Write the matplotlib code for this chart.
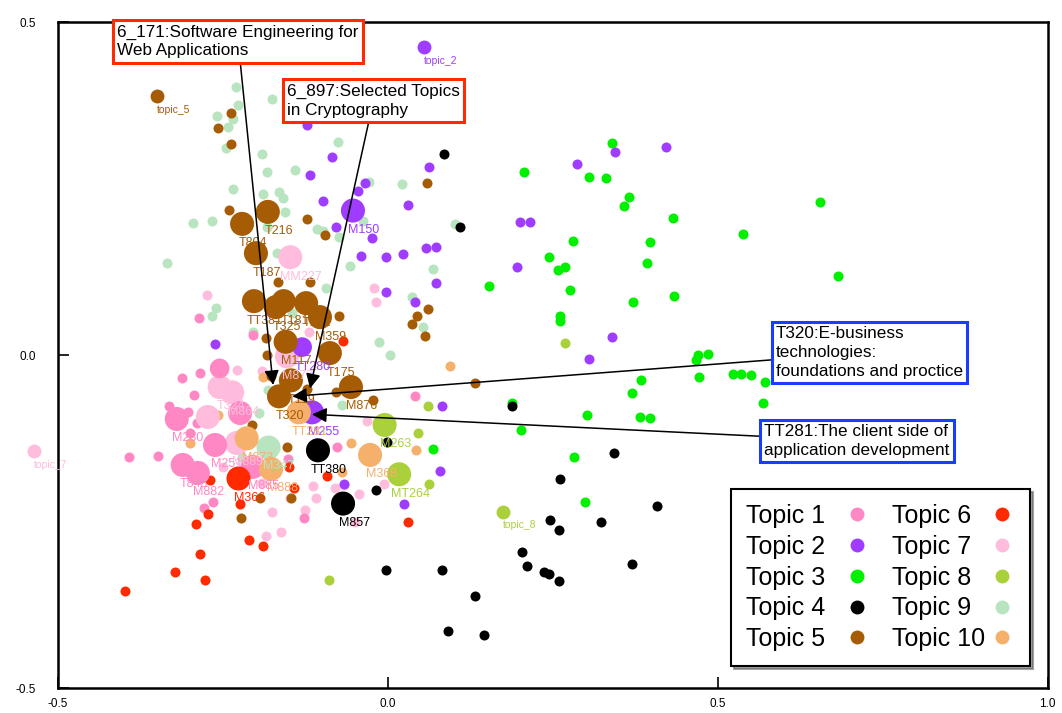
import matplotlib
matplotlib.use('Agg')
from matplotlib import pyplot as plt
from matplotlib.lines import Line2D

plt.rcParams['font.family'] = ['Liberation Sans', 'DejaVu Sans']

topic_names = ['Topic 1', 'Topic 2', 'Topic 3', 'Topic 4', 'Topic 5',
               'Topic 6', 'Topic 7', 'Topic 8', 'Topic 9', 'Topic 10']
colors = ['#ff88c4', '#a03cff', '#00f000', '#000000', '#a65c04',
          '#ff2a00', '#ffbcdc', '#aad13c', '#b8e4bf', '#f5b06c']

# small (single document) points per topic
t1_x = [-0.285, -0.312, -0.294, -0.332, -0.303, -0.289, -0.274, -0.392, -0.348, -0.152,
        -0.127, -0.279, -0.265, -0.077, -0.286, -0.205, 0.041, -0.300]
t1_y = [-0.027, -0.035, -0.060, -0.077, -0.086, -0.102, -0.102, -0.153, -0.152, -0.156,
        -0.244, -0.230, -0.221, -0.138, 0.056, 0.030, -0.062, -0.117]

t2_x = [0.421, 0.344, 0.286, 0.062, -0.035, -0.045, 0.030, -0.024, -0.041, -0.003,
        0.023, 0.058, 0.073, 0.200, 0.215, 0.195, 0.073, -0.003, 0.041, 0.339,
        0.305, -0.123, -0.085, -0.118, -0.098, -0.079, -0.262, 0.082, 0.079, 0.024,
        -0.067]
t2_y = [0.313, 0.305, 0.287, 0.283, 0.259, 0.247, 0.226, 0.176, 0.149, 0.147,
        0.152, 0.161, 0.162, 0.200, 0.200, 0.132, 0.108, 0.095, 0.080, 0.027,
        -0.006, 0.346, 0.298, 0.271, 0.232, 0.192, 0.017, -0.077, -0.174, -0.224,
        -0.194]

t3_x = [0.339, 0.206, 0.305, 0.330, 0.365, 0.358, 0.432, 0.280, 0.397, 0.244,
        0.258, 0.268, 0.392, 0.153, 0.276, 0.371, 0.433, 0.261, 0.261, 0.655,
        0.538, 0.682, 0.470, 0.467, 0.485, 0.471, 0.523, 0.535, 0.550, 0.571,
        0.568, 0.383, 0.370, 0.382, 0.397, 0.302, 0.188, 0.202, 0.282, 0.298,
        0.068]
t3_y = [0.319, 0.275, 0.268, 0.266, 0.238, 0.224, 0.206, 0.171, 0.170, 0.147,
        0.128, 0.132, 0.138, 0.104, 0.098, 0.080, 0.089, 0.059, 0.051, 0.230,
        0.182, 0.119, 0.000, -0.008, 0.002, -0.033, -0.029, -0.029, -0.030, -0.041,
        -0.072, -0.038, -0.057, -0.093, -0.095, -0.090, -0.072, -0.113, -0.153, -0.220,
        -0.141]

t4_x = [0.085, 0.109, 0.188, 0.342, 0.261, 0.408, 0.245, 0.259, 0.323, 0.203,
        0.211, 0.236, 0.244, 0.259, 0.370, -0.003, 0.082, 0.132, 0.091, 0.145,
        -0.018, -0.002]
t4_y = [0.302, 0.192, -0.077, -0.147, -0.186, -0.226, -0.247, -0.262, -0.251, -0.295,
        -0.316, -0.325, -0.329, -0.340, -0.313, -0.323, -0.322, -0.362, -0.415, -0.420,
        -0.203, -0.131]

t5_x = [-0.238, -0.258, -0.238, -0.241, -0.123, 0.059, 0.061, 0.044, 0.036, 0.056,
        -0.167, -0.118, -0.095, -0.074, -0.185, -0.183, -0.177, -0.123, -0.079, -0.023,
        -0.206, -0.185, -0.153, -0.194, -0.147, -0.223, 0.132]
t5_y = [0.364, 0.341, 0.317, 0.218, 0.205, 0.259, 0.069, 0.059, 0.047, 0.029,
        0.110, 0.110, 0.180, 0.059, 0.026, 0.000, -0.032, -0.051, -0.056, -0.068,
        -0.105, -0.138, -0.138, -0.214, -0.215, -0.244, -0.042]

t6_x = [-0.291, -0.285, -0.323, -0.398, -0.270, -0.150, -0.142, -0.224, -0.273, -0.211,
        -0.189, -0.092, 0.030, -0.068, -0.277]
t6_y = [-0.253, -0.298, -0.325, -0.355, -0.188, -0.168, -0.200, -0.223, -0.238, -0.277,
        -0.287, -0.182, -0.251, 0.021, -0.338]

t7_x = [-0.274, -0.120, -0.021, -0.018, -0.229, -0.191, -0.133, -0.114, -0.080, -0.176,
        -0.162, -0.185, -0.126, -0.050, -0.191, -0.250, -0.148, -0.032, -0.067, -0.044,
        -0.006, -0.109]
t7_y = [0.090, 0.035, 0.101, 0.080, -0.023, -0.024, -0.075, -0.197, -0.200, -0.235,
        -0.265, -0.272, -0.233, -0.251, -0.192, -0.168, -0.214, -0.099, -0.195, -0.208,
        -0.194, -0.215]

t8_x = [0.061, 0.045, 0.062, 0.268, -0.089]
t8_y = [-0.077, -0.117, -0.194, 0.018, -0.338]

t9_x = [-0.230, -0.176, -0.227, -0.259, -0.235, -0.242, -0.245, -0.191, -0.183, -0.141,
        -0.235, -0.189, -0.165, -0.159, -0.156, -0.295, -0.267, -0.108, -0.098, -0.076,
        -0.029, 0.021, -0.038, -0.058, 0.068, 0.036, 0.053, -0.014, 0.003, 0.102,
        -0.335, -0.261, -0.267, -0.168, -0.205, -0.094, -0.070, -0.182, -0.145, -0.074,
        -0.183, -0.195, -0.221, -0.239]
t9_y = [0.402, 0.385, 0.376, 0.359, 0.355, 0.343, 0.311, 0.302, 0.275, 0.278,
        0.250, 0.242, 0.245, 0.236, 0.215, 0.198, 0.202, 0.189, 0.186, 0.320,
        0.260, 0.257, 0.202, 0.134, 0.129, 0.087, 0.042, 0.020, 0.000, 0.197,
        0.138, 0.071, 0.059, 0.153, 0.035, 0.101, -0.075, -0.053, 0.063, 0.177,
        0.192, -0.087, -0.153, -0.063]

t10_x = [-0.258, -0.300, 0.094, -0.056, 0.042, -0.070, -0.189]
t10_y = [-0.090, -0.132, -0.017, -0.132, -0.143, -0.176, -0.033]

small_x = [t1_x, t2_x, t3_x, t4_x, t5_x, t6_x, t7_x, t8_x, t9_x, t10_x]
small_y = [t1_y, t2_y, t3_y, t4_y, t5_y, t6_y, t7_y, t8_y, t9_y, t10_y]

# courses (weighted points)
course_name = ['T804', 'T216', 'T187', 'TT381', 'T325', 'T181', 'T122', 'M359', 'M117', 'T175',
               'T119', 'T320', 'M876', 'M150', 'TT280', 'M255', 'TT380', 'M857', 'TT281', 'M873',
               'M888', 'M368', 'M263', 'MT264', 'M366', 'M280', 'T843', 'M882', 'M251', '',
               'M885', '', 'MM227', 'T324', 'M864', 'M877', '', 'M889', 'M347']
course_topic = [5, 5, 5, 5, 5, 5, 5, 5, 5, 5,
                5, 5, 5, 2, 2, 2, 4, 4, 10, 10,
                10, 10, 8, 8, 6, 1, 1, 1, 1, 1,
                1, 1, 7, 7, 7, 7, 7, 7, 9]
course_x = [-0.221, -0.182, -0.200, -0.203, -0.170, -0.158, -0.124, -0.103, -0.155, -0.088,
            -0.147, -0.165, -0.056, -0.053, -0.130, -0.115, -0.106, -0.068, -0.135, -0.214,
            -0.177, -0.027, -0.005, 0.017, -0.227, -0.320, -0.311, -0.288, -0.262, -0.255,
            -0.205, -0.224, -0.148, -0.255, -0.236, -0.153, -0.273, -0.229, -0.182]
course_y = [0.197, 0.215, 0.153, 0.081, 0.072, 0.081, 0.078, 0.057, 0.020, 0.003,
            -0.038, -0.062, -0.048, 0.217, 0.012, -0.086, -0.143, -0.223, -0.086, -0.125,
            -0.171, -0.150, -0.105, -0.179, -0.185, -0.096, -0.165, -0.177, -0.135, -0.020,
            -0.168, -0.087, 0.147, -0.048, -0.056, -0.002, -0.093, -0.132, -0.138]
course_w = [4, 4, 4, 4, 4, 4, 4, 4, 4, 4,
            4, 4, 4, 4, 3, 4, 4, 4, 4, 4,
            4, 4, 4, 4, 4, 4, 4, 4, 4, 3,
            4, 4, 4, 4, 4, 4, 4, 4, 4]

# topic centroids
centroid_topic = [2, 5, 7, 8]
centroid_x = [0.055, -0.350, -0.536, 0.174]
centroid_y = [0.463, 0.389, -0.144, -0.235]

# highlighted courses
note_text = ['6_171:Software Engineering for\nWeb Applications',
             '6_897:Selected Topics\nin Cryptography',
             'T320:E-business\ntechnologies:\nfoundations and proctice',
             'TT281:The client side of\napplication development']
note_px = [-0.174, -0.118, -0.145, -0.115]
note_py = [-0.045, -0.050, -0.062, -0.089]
note_bx = [-0.227, -0.022, 0.730, 0.711]
note_by = [0.471, 0.382, 0.004, -0.129]
note_edge = ['#ff2a00', '#ff2a00', '#1a3cff', '#1a3cff']

size_map = {1: 52, 2: 100, 3: 200, 4: 300}

fig = plt.figure(figsize=(10.62, 7.13), dpi=100)
ax = fig.add_axes([0.0546, 0.035, 0.932, 0.934])

for i in [8, 6, 0, 9, 7, 5, 2, 3, 1, 4]:
    ax.scatter(small_x[i], small_y[i], s=size_map[1], c=colors[i], linewidths=0, zorder=2)

for t, cx, cy in zip(centroid_topic, centroid_x, centroid_y):
    ax.scatter([cx], [cy], s=size_map[2], c=colors[t - 1], linewidths=0, zorder=3, clip_on=False)
    ax.annotate('topic_%d' % t, (cx, cy), xytext=(0, -10), textcoords='offset points',
                ha='left', va='center', fontsize=7.5, color=colors[t - 1], annotation_clip=False)

order = [9, 7, 1, 2, 4, 6, 8, 10, 5, 3]
for t in order:
    idx = [k for k in range(len(course_name)) if course_topic[k] == t]
    if not idx:
        continue
    ax.scatter([course_x[k] for k in idx], [course_y[k] for k in idx],
               s=[size_map[course_w[k]] for k in idx], c=colors[t - 1], linewidths=0, zorder=4)

for k in range(len(course_name)):
    if course_name[k]:
        ax.annotate(course_name[k], (course_x[k], course_y[k]), xytext=(8, -14),
                    textcoords='offset points', ha='center', va='center', fontsize=9,
                    color=colors[course_topic[k] - 1], zorder=5)

for k in range(len(note_text)):
    ax.annotate(note_text[k], xy=(note_px[k], note_py[k]), xytext=(note_bx[k], note_by[k]),
                ha='center', va='center', multialignment='left', fontsize=12.3,
                linespacing=1.3,
                bbox=dict(boxstyle='square,pad=0.25', fc='white', ec=note_edge[k], lw=2.2),
                arrowprops=dict(arrowstyle='-|>', mutation_scale=22, color='black', lw=1.1,
                                shrinkA=0, shrinkB=0),
                annotation_clip=False, zorder=6)

# pad single digit labels to the width of "Topic 10" so the markers line up
leg_labels = [n if len(n) > 7 else n + '\u2007' for n in topic_names]
handles = [Line2D([], [], marker='o', linestyle='none', markersize=10,
                  markerfacecolor=colors[i], markeredgewidth=0) for i in range(10)]
leg = ax.legend(handles, leg_labels, ncol=2, loc='lower right', bbox_to_anchor=(0.982, 0.033),
                borderaxespad=0, fontsize=18, markerfirst=False, shadow=True, fancybox=False,
                framealpha=1, edgecolor='black', labelspacing=0.27, columnspacing=0.9,
                handletextpad=0.2, handlelength=1.0, borderpad=0.6)
leg.get_frame().set_linewidth(1.5)
leg.set_zorder(7)

ax.set_xlim(-0.5, 1.0)
ax.set_ylim(-0.5, 0.5)
ax.set_xticks([-0.5, 0.0, 0.5, 1.0])
ax.set_yticks([-0.5, 0.0, 0.5])
ax.set_xticklabels(['-0.5', '0.0', '0.5', '1.0'])
ax.set_yticklabels(['-0.5', '0.0', '0.5'])
ax.tick_params(direction='in', length=8, width=1.2, labelsize=8.5)
ax.tick_params(axis='y', pad=16)
ax.tick_params(axis='x', pad=7)
for sp in ax.spines.values():
    sp.set_linewidth(1.8)

fig.savefig('out.png', dpi=100)
